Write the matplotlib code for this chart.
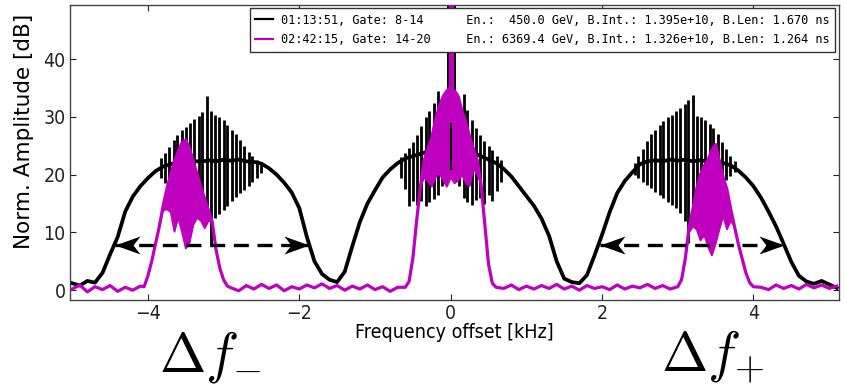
import numpy as np
import matplotlib
matplotlib.use('Agg')
import matplotlib.pyplot as plt
from matplotlib.path import Path
from matplotlib.lines import Line2D

plt.rcParams['font.family'] = 'DejaVu Sans'
plt.rcParams['font.stretch'] = 'condensed'
plt.rcParams['mathtext.fontset'] = 'cm'

# sampling grid of the smooth parts [kHz]
freq = np.round(np.arange(-5.0, 5.15, 0.1), 2)

# black trace, smooth envelope read at every grid point [dB]
black_env = [1.2, 0.8, 1.6, 1.3, 3.0, 6.2, 9.2, 13.6, 16.2, 18.0,
             19.4, 20.6, 21.4, 21.8, 22.2, 22.0, 22.4, 22.2, 22.5, 22.3,
             22.6, 22.4, 22.6, 22.3, 22.2, 21.9, 21.1, 20.0, 18.6, 16.9,
             14.2, 9.2, 5.0, 2.8, 1.8, 1.4, 3.2, 7.6, 11.8, 15.0,
             17.3, 19.5, 20.9, 22.0, 22.8, 23.2, 23.6, 24.0, 24.2, 24.4,
             24.5, 24.4, 24.2, 23.8, 23.2, 22.6, 22.0, 21.0, 19.7, 18.0,
             16.3, 14.6, 12.4, 9.4, 5.0, 2.0, 1.4, 1.2, 2.6, 6.0,
             9.6, 13.5, 16.8, 18.9, 20.4, 21.8, 22.3, 22.5, 22.3, 22.6,
             22.4, 22.6, 22.3, 22.5, 22.2, 22.4, 22.0, 21.6, 20.7, 19.5,
             18.0, 16.0, 13.6, 11.0, 8.0, 4.9, 2.5, 1.5, 1.1, 1.6,
             1.0, 0.4]

# black trace, comb lines (position, top, bottom)
comb_f = [-3.83, -3.77, -3.72, -3.66, -3.61, -3.55, -3.50, -3.44, -3.39, -3.33,
          -3.28, -3.22, -3.17, -3.11, -3.06, -3.00, -2.95, -2.89, -2.84, -2.78,
          -2.73, -2.67, -2.62, -2.56, -2.51,
          -0.66, -0.61, -0.55, -0.50, -0.44, -0.39, -0.33, -0.28, -0.22, -0.17,
          -0.11, -0.06, 0.00, 0.06, 0.11, 0.17, 0.22, 0.28, 0.33, 0.39,
          0.44, 0.50, 0.55, 0.61, 0.66,
          2.43, 2.48, 2.54, 2.59, 2.65, 2.70, 2.76, 2.81, 2.87, 2.92,
          2.98, 3.03, 3.09, 3.14, 3.20, 3.25, 3.31, 3.36, 3.42, 3.47,
          3.53, 3.58, 3.64, 3.69, 3.75]
comb_hi = [22.8, 23.7, 24.8, 26.0, 26.9, 27.7, 28.3, 29.0, 29.6, 30.1,
           30.8, 33.6, 31.0, 30.3, 30.0, 29.4, 28.6, 27.8, 27.0, 26.0,
           25.0, 24.0, 23.2, 22.6, 22.0,
           23.0, 23.8, 24.6, 25.6, 26.8, 28.4, 30.0, 31.0, 32.4, 34.5,
           30.0, 28.0, 29.0, 28.0, 30.0, 34.0, 31.2, 29.5, 28.0, 26.8,
           25.8, 25.0, 24.2, 23.3, 22.6,
           22.0, 23.2, 24.5, 25.8, 27.0, 27.8, 28.6, 29.3, 29.9, 30.4,
           31.0, 31.6, 32.2, 33.0, 33.8, 30.2, 30.0, 29.5, 28.8, 28.0,
           27.0, 25.6, 24.4, 23.3, 22.3]
comb_lo = [19.5, 18.5, 18.0, 17.2, 16.8, 16.5, 16.2, 16.0, 15.6, 15.0,
           14.0, 12.0, 8.0, 12.5, 13.2, 13.8, 14.6, 15.4, 16.2, 16.8,
           17.4, 18.0, 18.8, 19.5, 20.2,
           19.5, 17.5, 14.5, 15.5, 14.8, 15.5, 14.6, 15.2, 15.8, 16.5,
           18.0, 19.0, 20.8, 19.0, 18.0, 16.0, 15.2, 14.8, 15.6, 16.0,
           15.0, 16.5, 15.5, 17.2, 18.8,
           20.0, 19.4, 18.8, 18.2, 17.6, 17.0, 16.5, 16.0, 15.3, 14.8,
           14.2, 13.4, 12.0, 8.2, 11.5, 13.0, 14.2, 15.0, 16.0, 16.8,
           17.5, 18.3, 19.0, 19.8, 20.5]

# magenta trace, noise floor at grid points (nan where a sideband sits)
nan = np.nan
mag_floor = [0.2, 0.9, -0.3, 0.6, 0.1, 0.8, -0.2, 0.5, 0.0, 0.7,
             nan, nan, nan, nan, nan, nan, nan, nan, nan, nan, nan,
             0.4, -0.1, 0.8, 0.2, 1.0, 0.3, 0.9, -0.1, 0.6, 0.2,
             0.9, 0.4, 1.1, 0.3, 0.8, 0.0, 0.7, 0.2, 0.9, 0.1,
             0.6, -0.2, 0.5,
             nan, nan, nan, nan, nan, nan, nan, nan, nan, nan, nan, nan, nan,
             0.3, 0.9, 0.1, 0.7, 0.2, 0.8, 0.3, 1.0, 0.2, 0.7,
             0.0, 0.8, 0.3, 0.6, 0.1, 0.9, 0.2, 0.7, 0.4, 1.0,
             0.3, 0.8, 0.2,
             nan, nan, nan, nan, nan, nan, nan, nan, nan, nan, nan,
             0.5, 0.1, 0.9, 0.3, 0.8, 0.2, 1.0, 0.4, 0.9, 0.3, 0.7]

# magenta sidebands: upper and lower edge of the dense band
lobe_l_f = [-4.05, -4.00, -3.95, -3.90, -3.85, -3.80, -3.75, -3.70, -3.65, -3.60,
            -3.55, -3.50, -3.45, -3.40, -3.35, -3.30, -3.25, -3.20, -3.15, -3.10,
            -3.05, -3.00, -2.95]
lobe_l_hi = [0.6, 2.5, 5.0, 8.0, 11.0, 14.5, 17.5, 20.0, 22.2, 24.0,
             25.5, 26.0, 24.5, 22.2, 20.0, 17.8, 15.8, 13.8, 11.8, 7.0,
             3.8, 1.8, 0.7]
lobe_l_lo = [0.6, 2.5, 5.0, 8.0, 11.0, 13.8, 14.0, 13.5, 10.1, 12.5,
             10.0, 7.2, 8.2, 11.3, 12.5, 12.0, 10.7, 12.0, 11.8, 7.0,
             3.8, 1.8, 0.7]

lobe_c_f = [-0.60, -0.55, -0.50, -0.45, -0.40, -0.35, -0.30, -0.25, -0.20, -0.15,
            -0.10, -0.05, 0.00, 0.05, 0.10, 0.15, 0.20, 0.25, 0.30, 0.35,
            0.40, 0.45, 0.50, 0.55, 0.60]
lobe_c_hi = [0.5, 1.5, 5.5, 12.0, 17.9, 22.5, 24.5, 26.3, 29.5, 31.8,
             33.5, 34.5, 35.0, 34.5, 33.5, 31.0, 29.0, 26.5, 24.5, 22.5,
             18.5, 11.5, 4.5, 1.2, 0.5]
lobe_c_lo = [0.5, 1.5, 5.5, 12.0, 17.9, 19.5, 18.8, 17.9, 19.5, 20.2,
             19.0, 17.9, 19.5, 18.5, 19.0, 19.9, 18.5, 18.0, 21.0, 20.0,
             18.5, 11.5, 4.5, 1.2, 0.5]

lobe_r_f = [3.00, 3.05, 3.10, 3.15, 3.20, 3.25, 3.30, 3.35, 3.40, 3.45,
            3.50, 3.55, 3.60, 3.65, 3.70, 3.75, 3.80, 3.85, 3.90, 3.95, 4.00]
lobe_r_hi = [0.6, 1.8, 5.5, 11.0, 14.0, 17.5, 20.0, 21.5, 22.5, 24.2,
             25.2, 22.3, 19.5, 17.4, 14.0, 11.0, 8.0, 5.5, 3.0, 1.3, 0.6]
lobe_r_lo = [0.6, 1.8, 5.5, 10.0, 11.0, 10.5, 8.6, 9.5, 7.5, 6.0,
             8.0, 10.5, 12.8, 10.5, 12.0, 11.0, 8.0, 5.5, 3.0, 1.3, 0.6]

# carrier line at 0 kHz (bottom, top; top is off scale)
black_carrier = [30.0, 60.0]
mag_carrier = [34.0, 60.0]

# legend information
times = ['01:13:51', '02:42:15']
gates = ['8-14', '14-20']
energy = [450.0, 6369.4]
b_int = [1.395e10, 1.326e10]
b_len = [1.670, 1.264]

# measured sideband spreads [kHz] at the arrow level [dB]
spread_minus = [-4.43, -1.87]
spread_plus = [1.97, 4.40]
spread_level = 7.8

MAG = '#bf00bf'

fig = plt.figure(figsize=(8.46, 3.89), dpi=100)
ax = fig.add_axes([0.0827, 0.2288, 0.909, 0.759])

ax.plot(freq, black_env, color='k', lw=2.7, zorder=2, solid_joinstyle='round')
ax.vlines(comb_f, comb_lo, comb_hi, color='k', lw=2.0, zorder=2)
ax.vlines(0.0, black_carrier[0], black_carrier[1], color='k', lw=6.5, zorder=2)

floor = np.array(mag_floor, dtype=float)
keep = ~np.isnan(floor)
mf = np.concatenate([freq[keep], lobe_l_f, lobe_c_f, lobe_r_f])
my = np.concatenate([floor[keep], lobe_l_hi, lobe_c_hi, lobe_r_hi])
order = np.argsort(mf)
ax.plot(mf[order], my[order], color=MAG, lw=2.3, zorder=3)
for lf, lhi, llo in [(lobe_l_f, lobe_l_hi, lobe_l_lo),
                     (lobe_c_f, lobe_c_hi, lobe_c_lo),
                     (lobe_r_f, lobe_r_hi, lobe_r_lo)]:
    ax.fill_between(lf, llo, lhi, color=MAG, lw=0, zorder=3)
    ax.plot(lf, llo, color=MAG, lw=1.2, zorder=3)
ax.vlines(0.0, mag_carrier[0], mag_carrier[1], color=MAG, lw=3.8, zorder=3)

# comb line at the carrier stays visible through the magenta band
i0 = comb_f.index(0.0)
ax.vlines(comb_f[i0], comb_lo[i0], comb_hi[i0], color='k', lw=1.5, zorder=4)

# dashed double arrows with stealth heads
head_r = Path([(0, 0), (-1, 0.36), (-0.72, 0), (-1, -0.36), (0, 0)],
              [Path.MOVETO, Path.LINETO, Path.LINETO, Path.LINETO, Path.CLOSEPOLY])
head_l = Path([(0, 0), (1, 0.36), (0.72, 0), (1, -0.36), (0, 0)],
              [Path.MOVETO, Path.LINETO, Path.LINETO, Path.LINETO, Path.CLOSEPOLY])
for span in [spread_minus, spread_plus]:
    ax.plot(span, [spread_level, spread_level], color='k', lw=2.4,
            dashes=(4.5, 2.6), zorder=5)
    ax.plot(span[0], spread_level, marker=head_l, ms=36, color='k', mew=0, zorder=5)
    ax.plot(span[1], spread_level, marker=head_r, ms=36, color='k', mew=0, zorder=5)

ax.set_xlim(-5.03, 5.13)
ax.set_ylim(-1.7, 49.4)
ax.set_xticks([-4, -2, 0, 2, 4])
ax.set_yticks([0, 10, 20, 30, 40])
ax.tick_params(direction='in', top=True, right=True, length=4, width=0.8,
               labelsize=14, pad=3, colors='#222222')
for sp in ax.spines.values():
    sp.set_color('#444444')
    sp.set_linewidth(1.0)
ax.set_xlabel('Frequency offset [kHz]', fontsize=14)
ax.set_ylabel('Norm. Amplitude [dB]', fontsize=15.5, fontstretch='normal')
ax.xaxis.set_label_coords(0.5, -0.078)
ax.yaxis.set_label_coords(-0.047, 0.572)

labels = []
for t, g, e, bi, bl in zip(times, gates, energy, b_int, b_len):
    labels.append('%-26sEn.: %6.1f GeV, B.Int.: %.3e, B.Len: %.3f ns'
                  % (t + ', Gate: ' + g, e, bi, bl))
handles = [Line2D([], [], color='k', lw=1.6), Line2D([], [], color=MAG, lw=1.6)]
leg = ax.legend(handles, labels, loc='upper right', bbox_to_anchor=(1.0, 1.0),
                borderaxespad=0.3, fancybox=False, framealpha=1.0,
                edgecolor='#333333', handlelength=1.5, handletextpad=0.7,
                borderpad=0.45, labelspacing=0.55,
                prop={'family': 'DejaVu Sans Mono', 'size': 8.55})
leg.get_frame().set_linewidth(1.0)

fig.text(0.249, 0.082, r'$\Delta f_{-}$', fontsize=40, ha='center', va='center')
fig.text(0.842, 0.082, r'$\Delta f_{+}$', fontsize=40, ha='center', va='center')

fig.savefig('out.png', dpi=100)
